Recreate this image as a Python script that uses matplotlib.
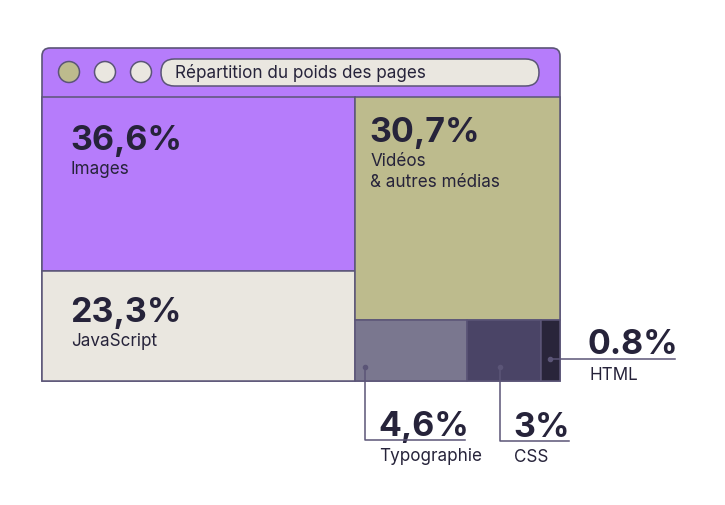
import matplotlib.pyplot as plt
from matplotlib.patches import Rectangle, FancyBboxPatch, Circle, PathPatch
from matplotlib.path import Path

plt.rcParams['font.family'] = ['Inter', 'DejaVu Sans']

# === Données ===
labels = ["Images", "JavaScript", "Vidéos\n& autres médias", "Typographie", "CSS", "HTML"]
values = [36.6, 23.3, 30.7, 4.6, 3.0, 0.8]
value_labels = ["36,6%", "23,3%", "30,7%", "4,6%", "3%", "0.8%"]
colors = ["#b67cfb", "#eae7e0", "#bdbb8d", "#7a778f", "#4a4466", "#29253a"]
title = "Répartition du poids des pages"

ink = "#26233a"
edge = "#5b5577"

# zone du treemap (pixels)
X0, X1, Y0, Y1 = 42, 560, 97, 381

fig = plt.figure(figsize=(7.25, 5.05), dpi=100)
ax = fig.add_axes([0, 0, 1, 1])
ax.set_xlim(0, 725)
ax.set_ylim(505, 0)
ax.axis("off")

# === Fenêtre ===
r = 8
top = 48
verts = [(X0, Y1), (X0, top + r), (X0, top), (X0 + r, top), (X1 - r, top), (X1, top),
         (X1, top + r), (X1, Y1), (X0, Y1)]
codes = [Path.MOVETO, Path.LINETO, Path.CURVE3, Path.CURVE3, Path.LINETO, Path.CURVE3,
         Path.CURVE3, Path.LINETO, Path.CLOSEPOLY]
ax.add_patch(PathPatch(Path(verts, codes), facecolor=colors[0], edgecolor=edge, lw=1.2, zorder=1))

for cx, fc in [(69, colors[2]), (105, colors[1]), (141, colors[1])]:
    ax.add_patch(Circle((cx, 72), 10.5, facecolor=fc, edgecolor=edge, lw=1.1, zorder=3))
ax.add_patch(FancyBboxPatch((161, 59), 378, 27, boxstyle="round,pad=0,rounding_size=13.5",
                            facecolor=colors[1], edgecolor=edge, lw=1.1, zorder=3))
ax.text(175, 73, title, fontsize=12.3, color=ink, va="center", ha="left", zorder=4)

# === Treemap ===
total = sum(values)
W, H = X1 - X0, Y1 - Y0
left = values[0] + values[1]
xm = X0 + W * left / total
ym_left = Y0 + H * values[0] / left
right = total - left
ym_right = Y0 + H * values[2] / right
bottom = values[3] + values[4] + values[5]

rects = [
    (X0, Y0, xm - X0, ym_left - Y0),
    (X0, ym_left, xm - X0, Y1 - ym_left),
    (xm, Y0, X1 - xm, ym_right - Y0),
]
x = xm
for v in values[3:]:
    w = (X1 - xm) * v / bottom
    rects.append((x, ym_right, w, Y1 - ym_right))
    x += w

for (rx, ry, rw, rh), c in zip(rects, colors):
    ax.add_patch(Rectangle((rx, ry), rw, rh, facecolor=c, edgecolor=edge, lw=1.1, zorder=2))

big = dict(fontsize=24.5, fontweight="bold", color=ink, va="baseline", ha="left", zorder=5)
small = dict(fontsize=12.3, color=ink, va="baseline", ha="left", zorder=5)

# étiquettes internes
offs = [(28, 53), (28, 51), (14, 45)]
for i in range(3):
    rx, ry = rects[i][0], rects[i][1]
    ax.text(rx + offs[i][0], ry + offs[i][1], value_labels[i], **big)
    for k, line in enumerate(labels[i].split("\n")):
        ax.text(rx + offs[i][0] + 1, ry + offs[i][1] + 24 + 21 * k, line, **small)

# étiquettes externes avec repères
dot_y = ym_right + 47
line_kw = dict(color=edge, lw=1.1, zorder=6)
for i, (dx, ly, lx2) in zip([3, 4], [(10, 440, 465), (33, 441, 569)]):
    rx = rects[i][0]
    px = rx + dx
    ax.plot([px], [dot_y], "o", ms=3, color=edge, zorder=6)
    ax.plot([px, px, lx2], [dot_y, ly, ly], **line_kw)
    ax.text(px + 13, ly - 4, value_labels[i], **big)
    ax.text(px + 14, ly + 21, labels[i], **small)

# HTML
hx = rects[5][0] + rects[5][2] / 2
hy = 359
ax.plot([hx], [hy], "o", ms=3, color=edge, zorder=6)
ax.plot([hx, 675], [hy, hy], **line_kw)
ax.text(588, hy - 5, value_labels[5], **big)
ax.text(590, hy + 21, labels[5], **small)

fig.savefig("out.png", dpi=100)
